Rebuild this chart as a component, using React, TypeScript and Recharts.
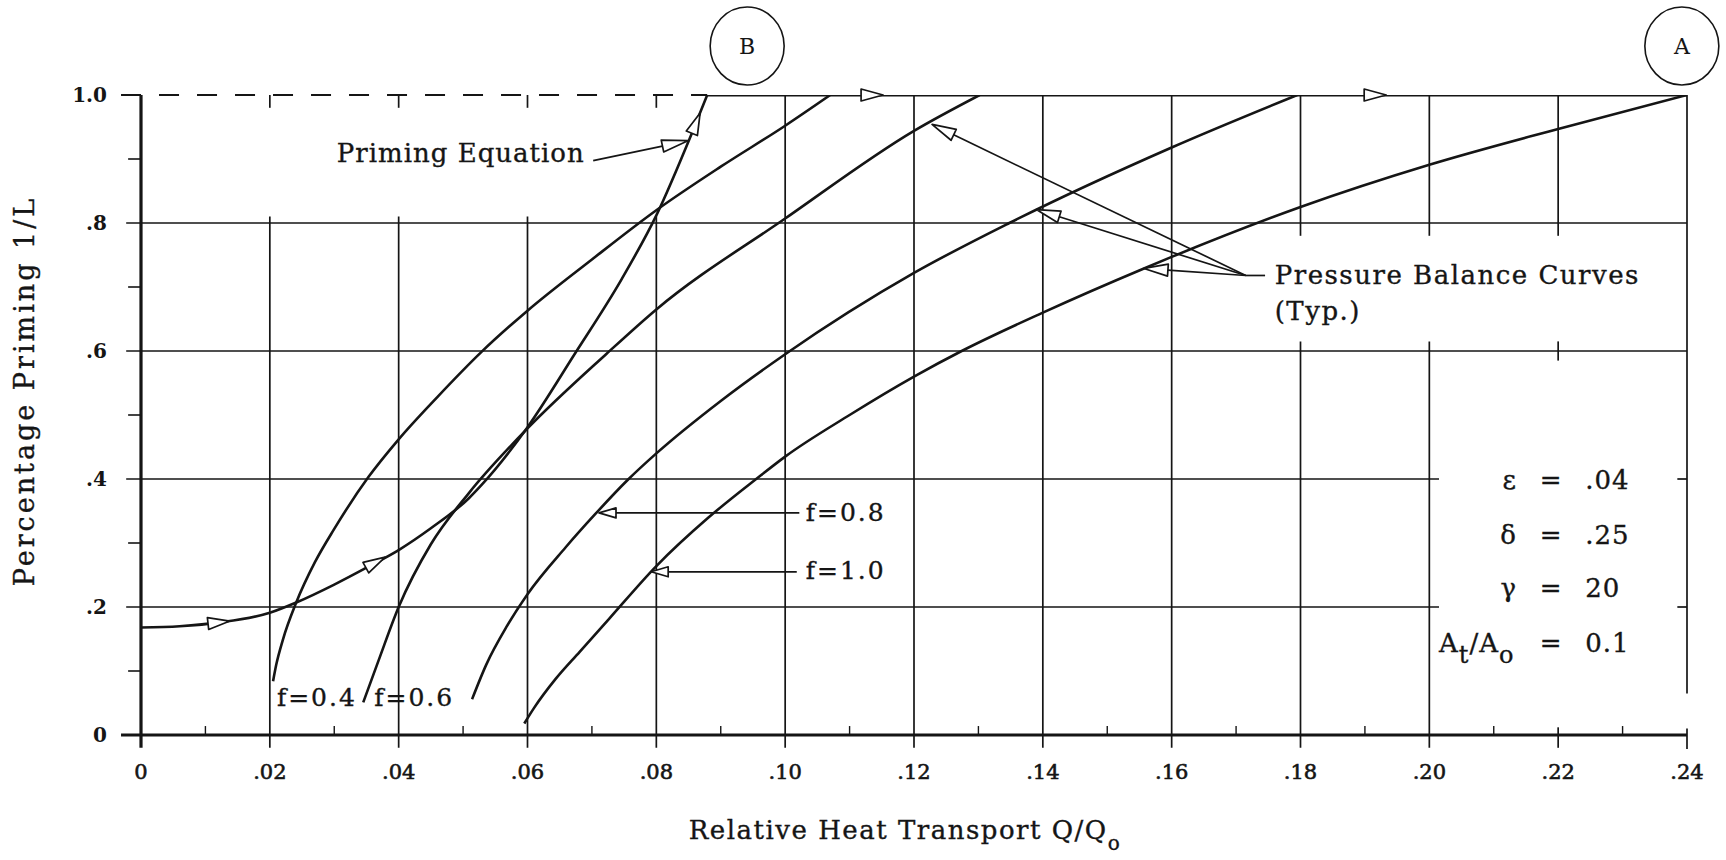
import React from 'react';
import { ComposedChart, Line, XAxis, YAxis, ReferenceLine, ReferenceDot } from 'recharts';

const FONT = '"DejaVu Serif", "Liberation Serif", serif';
const INK = '#151515';

// ---- axes -------------------------------------------------------------
const xTicks = [0, 0.02, 0.04, 0.06, 0.08, 0.1, 0.12, 0.14, 0.16, 0.18, 0.2, 0.22, 0.24];
const xTickLabels = ['0', '.02', '.04', '.06', '.08', '.10', '.12', '.14', '.16', '.18', '.20', '.22', '.24'];
const yTicks = [0, 0.2, 0.4, 0.6, 0.8, 1.0];
const yTickLabels = ['0', '.2', '.4', '.6', '.8', '1.0'];
const xMinorTicks = [0.01, 0.03, 0.05, 0.07, 0.09, 0.11, 0.13, 0.15, 0.17, 0.19, 0.21, 0.23];
const yMinorTicks = [0.1, 0.3, 0.5, 0.7, 0.9];

// ---- priming equation --------------------------------------------------
const primingCurve = [
  { x: 0, y: 0.168 }, { x: 0.006, y: 0.17 }, { x: 0.0123, y: 0.176 }, { x: 0.02, y: 0.191 },
  { x: 0.0241, y: 0.207 }, { x: 0.03, y: 0.235 }, { x: 0.0353, y: 0.263 }, { x: 0.04, y: 0.289 },
  { x: 0.045, y: 0.323 }, { x: 0.0509, y: 0.37 }, { x: 0.0528, y: 0.39 }, { x: 0.06, y: 0.481 },
  { x: 0.0673, y: 0.595 }, { x: 0.0746, y: 0.712 }, { x: 0.08, y: 0.812 }, { x: 0.0855, y: 0.94 },
  { x: 0.0879, y: 1.0 },
];
// full priming (1/L = 1) from B to A
const primingPlateau = [{ x: 0.0879, y: 1.0 }, { x: 0.24, y: 1.0 }];

// ---- pressure balance curves ------------------------------------------
const balanceF04 = [
  { x: 0.0205, y: 0.084 }, { x: 0.021, y: 0.11 }, { x: 0.022, y: 0.148 }, { x: 0.0241, y: 0.207 },
  { x: 0.027, y: 0.27 }, { x: 0.03, y: 0.322 }, { x: 0.0353, y: 0.403 }, { x: 0.04, y: 0.462 },
  { x: 0.046, y: 0.528 }, { x: 0.0529, y: 0.599 }, { x: 0.06, y: 0.663 }, { x: 0.07, y: 0.743 },
  { x: 0.08, y: 0.82 }, { x: 0.09, y: 0.888 }, { x: 0.1, y: 0.952 }, { x: 0.107, y: 1.0 },
];
const balanceF06 = [
  { x: 0.0345, y: 0.051 }, { x: 0.0369, y: 0.117 }, { x: 0.04, y: 0.2 }, { x: 0.045, y: 0.298 },
  { x: 0.0509, y: 0.378 }, { x: 0.06, y: 0.479 }, { x: 0.0722, y: 0.595 }, { x: 0.08, y: 0.665 },
  { x: 0.1, y: 0.807 }, { x: 0.12, y: 0.944 }, { x: 0.1302, y: 1.0 },
];
const balanceF08 = [
  { x: 0.0514, y: 0.056 }, { x: 0.0536, y: 0.11 }, { x: 0.0568, y: 0.17 }, { x: 0.06, y: 0.22 },
  { x: 0.0659, y: 0.293 }, { x: 0.0705, y: 0.345 }, { x: 0.0755, y: 0.398 }, { x: 0.08, y: 0.44 },
  { x: 0.09, y: 0.522 }, { x: 0.1, y: 0.595 }, { x: 0.12, y: 0.722 }, { x: 0.1348, y: 0.8 },
  { x: 0.16, y: 0.918 }, { x: 0.1795, y: 1.0 },
];
const balanceF10 = [
  { x: 0.0595, y: 0.018 }, { x: 0.061, y: 0.042 }, { x: 0.0644, y: 0.088 }, { x: 0.0681, y: 0.13 },
  { x: 0.0727, y: 0.182 }, { x: 0.08, y: 0.264 }, { x: 0.088, y: 0.339 }, { x: 0.0955, y: 0.4 },
  { x: 0.1, y: 0.435 }, { x: 0.11, y: 0.5 }, { x: 0.12, y: 0.56 }, { x: 0.1274, y: 0.6 },
  { x: 0.14, y: 0.66 }, { x: 0.1557, y: 0.729 }, { x: 0.16, y: 0.747 }, { x: 0.18, y: 0.825 },
  { x: 0.2, y: 0.891 }, { x: 0.22, y: 0.947 }, { x: 0.24, y: 1.0 },
];

// ---- direction arrows riding on the priming path: [tail, tip] ----------
const flowArrows = [
  [{ x: 0.0104, y: 0.1742 }, { x: 0.0138, y: 0.178 }],
  [{ x: 0.0341, y: 0.257 }, { x: 0.0379, y: 0.278 }],
  [{ x: 0.0851, y: 0.93 }, { x: 0.0868, y: 0.972 }],
  [{ x: 0.1112, y: 1.0 }, { x: 0.1152, y: 1.0 }],
  [{ x: 0.1893, y: 1.0 }, { x: 0.1933, y: 1.0 }],
];

// ---- leader lines with arrowheads: [tail, tip] --------------------------
const primingLeader = [{ x: 0.0702, y: 0.8975 }, { x: 0.0849, y: 0.9286 }];
const f08Leader = [{ x: 0.1022, y: 0.347 }, { x: 0.0711, y: 0.347 }];
const f10Leader = [{ x: 0.1018, y: 0.255 }, { x: 0.0792, y: 0.255 }];
const balanceHub = { x: 0.1715, y: 0.718 };
const balanceTips = [{ x: 0.1228, y: 0.954 }, { x: 0.139, y: 0.821 }, { x: 0.1557, y: 0.729 }];

// ---- shapes --------------------------------------------------------------
const arrowShape = (withShaft: boolean, len: number, half: number) => (p: any) => {
  const { x1, y1, x2, y2 } = p;
  const dx = x2 - x1;
  const dy = y2 - y1;
  const d = Math.hypot(dx, dy) || 1;
  const ux = dx / d;
  const uy = dy / d;
  const nx = -uy;
  const ny = ux;
  const bx = x2 - ux * len;
  const by = y2 - uy * len;
  const pts = `${x2},${y2} ${bx + nx * half},${by + ny * half} ${bx - nx * half},${by - ny * half}`;
  return (
    <g>
      {withShaft && <line x1={x1} y1={y1} x2={bx} y2={by} stroke={INK} strokeWidth={1.7} />}
      <polygon points={pts} fill="#fff" stroke={INK} strokeWidth={1.7} strokeLinejoin="round" />
    </g>
  );
};

const note = (content: React.ReactNode, anchor: 'start' | 'middle' | 'end' = 'start', size = 26, spacing = 1) =>
  (p: any) => (
    <text
      x={p.cx}
      y={p.cy}
      textAnchor={anchor}
      dominantBaseline="central"
      fontFamily={FONT}
      fontSize={size}
      letterSpacing={spacing}
      fill={INK}
      stroke={INK}
      strokeWidth={0.35}
    >
      {content}
    </text>
  );

const ringed = (letter: string) => (p: any) => (
  <g>
    <ellipse cx={p.cx} cy={p.cy} rx={37} ry={39} fill="none" stroke={INK} strokeWidth={1.6} />
    <text x={p.cx} y={p.cy} textAnchor="middle" dominantBaseline="central" fontFamily={FONT} fontSize={22} fill={INK}>
      {letter}
    </text>
  </g>
);

const XTick = (p: any) => {
  const i = xTicks.findIndex((t) => Math.abs(t - p.payload.value) < 1e-9);
  return (
    <text
      x={p.x}
      y={p.y + 37}
      textAnchor="middle"
      dominantBaseline="central"
      fontFamily={FONT}
      fontSize={21}
      fill={INK}
      stroke={INK}
      strokeWidth={0.6}
    >
      {xTickLabels[i]}
    </text>
  );
};

const YTick = (p: any) => {
  const i = yTicks.findIndex((t) => Math.abs(t - p.payload.value) < 1e-9);
  return (
    <text x={p.x - 34} y={p.y} textAnchor="end" dominantBaseline="central" fontFamily={FONT} fontSize={20} fontWeight="bold" fill={INK}>
      {yTickLabels[i]}
    </text>
  );
};

const seg = (x1: number, y1: number, x2: number, y2: number) => [{ x: x1, y: y1 }, { x: x2, y: y2 }];

const GRID = 1.7;

export default function App() {
  // grid pieces (the chart leaves gaps for its annotations)
  const gridSegments: { s: any; w: number; dash?: string }[] = [
    { s: seg(-0.0023, 0.2, 0.2015, 0.2), w: GRID },
    { s: seg(-0.0023, 0.4, 0.2015, 0.4), w: GRID },
    { s: seg(0.2385, 0.2, 0.24, 0.2), w: GRID },
    { s: seg(0.2385, 0.4, 0.24, 0.4), w: GRID },
    { s: seg(-0.0023, 0.6, 0.24, 0.6), w: GRID },
    { s: seg(-0.0023, 0.8, 0.24, 0.8), w: GRID },
    { s: seg(-0.0031, 0, 0.24, 0), w: 3 },
    { s: seg(-0.0031, 1.0, 0.0879, 1.0), w: 2, dash: '20 18' },
    { s: seg(0, -0.02, 0, 1.0), w: 3.2 },
  ];
  [0.02, 0.04, 0.06, 0.08].forEach((x) => {
    gridSegments.push({ s: seg(x, 1.0, x, 0.98), w: GRID });
    gridSegments.push({ s: seg(x, 0.81, x, -0.02), w: GRID });
  });
  [0.1, 0.12, 0.14, 0.16].forEach((x) => gridSegments.push({ s: seg(x, 1.0, x, -0.02), w: GRID }));
  [0.18, 0.2].forEach((x) => {
    gridSegments.push({ s: seg(x, 1.0, x, 0.78), w: GRID });
    gridSegments.push({ s: seg(x, 0.615, x, -0.02), w: GRID });
  });
  gridSegments.push({ s: seg(0.22, 1.0, 0.22, 0.78), w: GRID });
  gridSegments.push({ s: seg(0.22, 0.615, 0.22, 0.585), w: GRID });
  gridSegments.push({ s: seg(0.22, 0.012, 0.22, -0.02), w: GRID });
  gridSegments.push({ s: seg(0.24, 1.0, 0.24, 0.065), w: GRID });
  gridSegments.push({ s: seg(0.24, 0.01, 0.24, -0.022), w: GRID });
  xMinorTicks.forEach((x) => gridSegments.push({ s: seg(x, 0, x, 0.014), w: 1.4 }));
  yMinorTicks.forEach((y) => gridSegments.push({ s: seg(-0.002, y, 0, y), w: 1.6 }));

  const curveProps = {
    type: 'monotone' as const,
    dataKey: 'y',
    stroke: INK,
    strokeWidth: 2.6,
    dot: false,
    activeDot: false,
    isAnimationActive: false,
  };

  return (
    <div style={{ position: 'absolute', left: 0, top: 0, width: 1726, height: 860, background: '#fff' }}>
      <ComposedChart width={1726} height={860} margin={{ top: 95, right: 39, bottom: 65, left: 41 }}>
        <XAxis
          type="number"
          dataKey="x"
          domain={[0, 0.24]}
          ticks={xTicks}
          interval={0}
          allowDataOverflow
          height={60}
          axisLine={false}
          tickLine={false}
          tickSize={0}
          tickMargin={0}
          tick={XTick}
          label={{
            content: (p: any) => {
              const vb = p.viewBox || { x: 141, y: 735, width: 1546 };
              return (
                <text
                  x={vb.x + 764}
                  y={vb.y + 95}
                  textAnchor="middle"
                  dominantBaseline="central"
                  fontFamily={FONT}
                  fontSize={26}
                  letterSpacing={1.5}
                  fill={INK}
                  stroke={INK}
                  strokeWidth={0.35}
                >
                  Relative Heat Transport Q/Q
                  <tspan dy={13} fontSize={20}>o</tspan>
                </text>
              );
            },
          }}
        />
        <YAxis
          type="number"
          domain={[0, 1]}
          ticks={yTicks}
          interval={0}
          allowDataOverflow
          width={100}
          axisLine={false}
          tickLine={false}
          tickSize={0}
          tickMargin={0}
          tick={YTick}
          label={{
            content: (p: any) => {
              const vb = p.viewBox || { x: 41, y: 95, height: 640 };
              const cx = vb.x - 17;
              const cy = vb.y + vb.height / 2 - 24;
              return (
                <text
                  x={cx}
                  y={cy}
                  transform={`rotate(-90 ${cx} ${cy})`}
                  textAnchor="middle"
                  dominantBaseline="central"
                  fontFamily={FONT}
                  fontSize={27}
                  letterSpacing={3}
                  fill={INK}
                  stroke={INK}
                  strokeWidth={0.35}
                >
                  Percentage Priming 1/L
                </text>
              );
            },
          }}
        />

        {gridSegments.map((g, i) => (
          <ReferenceLine
            key={`g${i}`}
            segment={g.s}
            stroke={INK}
            strokeWidth={g.w}
            strokeDasharray={g.dash}
            ifOverflow="visible"
          />
        ))}

        <Line data={primingCurve} {...curveProps} />
        <Line data={primingPlateau} {...curveProps} strokeWidth={3.2} type="linear" />
        <Line data={balanceF04} {...curveProps} />
        <Line data={balanceF06} {...curveProps} />
        <Line data={balanceF08} {...curveProps} />
        <Line data={balanceF10} {...curveProps} />

        {/* leaders */}
        <ReferenceLine segment={primingLeader} shape={arrowShape(true, 26, 6)} ifOverflow="visible" />
        <ReferenceLine segment={f08Leader} shape={arrowShape(true, 17, 5)} ifOverflow="visible" />
        <ReferenceLine segment={f10Leader} shape={arrowShape(true, 17, 5)} ifOverflow="visible" />
        {balanceTips.map((t, i) => (
          <ReferenceLine key={`bt${i}`} segment={[balanceHub, t]} shape={arrowShape(true, 24, 6)} ifOverflow="visible" />
        ))}
        <ReferenceLine
          segment={[balanceHub, { x: 0.1745, y: balanceHub.y }]}
          stroke={INK}
          strokeWidth={1.7}
          ifOverflow="visible"
        />

        {/* flow direction marks */}
        {flowArrows.map((a, i) => (
          <ReferenceLine key={`fa${i}`} segment={a} shape={arrowShape(false, 22, 6)} ifOverflow="visible" />
        ))}

        {/* annotations */}
        <ReferenceDot x={0.0941} y={1.0765} r={0} shape={ringed('B')} ifOverflow="visible" />
        <ReferenceDot x={0.2392} y={1.0765} r={0} shape={ringed('A')} ifOverflow="visible" />
        <ReferenceDot x={0.0304} y={0.909} r={0} shape={note('Priming Equation')} ifOverflow="visible" />
        <ReferenceDot x={0.176} y={0.7186} r={0} shape={note('Pressure Balance Curves', 'start', 26, 1.5)} ifOverflow="visible" />
        <ReferenceDot x={0.176} y={0.663} r={0} shape={note('(Typ.)', 'start', 26, 1.5)} ifOverflow="visible" />
        <ReferenceDot x={0.1032} y={0.347} r={0} shape={note('f=0.8', 'start', 25, 2)} ifOverflow="visible" />
        <ReferenceDot x={0.1032} y={0.257} r={0} shape={note('f=1.0', 'start', 25, 2)} ifOverflow="visible" />
        <ReferenceDot x={0.0211} y={0.0583} r={0} shape={note('f=0.4', 'start', 25, 2)} ifOverflow="visible" />
        <ReferenceDot x={0.0362} y={0.0583} r={0} shape={note('f=0.6', 'start', 25, 2)} ifOverflow="visible" />

        <ReferenceDot x={0.2136} y={0.398} r={0} shape={note('ε', 'end')} ifOverflow="visible" />
        <ReferenceDot x={0.2189} y={0.398} r={0} shape={note('=', 'middle')} ifOverflow="visible" />
        <ReferenceDot x={0.2242} y={0.398} r={0} shape={note('.04')} ifOverflow="visible" />
        <ReferenceDot x={0.2136} y={0.313} r={0} shape={note('δ', 'end')} ifOverflow="visible" />
        <ReferenceDot x={0.2189} y={0.313} r={0} shape={note('=', 'middle')} ifOverflow="visible" />
        <ReferenceDot x={0.2242} y={0.313} r={0} shape={note('.25')} ifOverflow="visible" />
        <ReferenceDot x={0.2136} y={0.229} r={0} shape={note('γ', 'end')} ifOverflow="visible" />
        <ReferenceDot x={0.2189} y={0.229} r={0} shape={note('=', 'middle')} ifOverflow="visible" />
        <ReferenceDot x={0.2242} y={0.229} r={0} shape={note('20')} ifOverflow="visible" />
        <ReferenceDot
          x={0.2015}
          y={0.143}
          r={0}
          shape={note(
            <>
              A<tspan dy={12} fontSize={24}>t</tspan>
              <tspan dy={-12}>/A</tspan>
              <tspan dy={12} fontSize={24}>o</tspan>
            </>,
          )}
          ifOverflow="visible"
        />
        <ReferenceDot x={0.2189} y={0.143} r={0} shape={note('=', 'middle')} ifOverflow="visible" />
        <ReferenceDot x={0.2242} y={0.143} r={0} shape={note('0.1')} ifOverflow="visible" />
      </ComposedChart>
    </div>
  );
}
